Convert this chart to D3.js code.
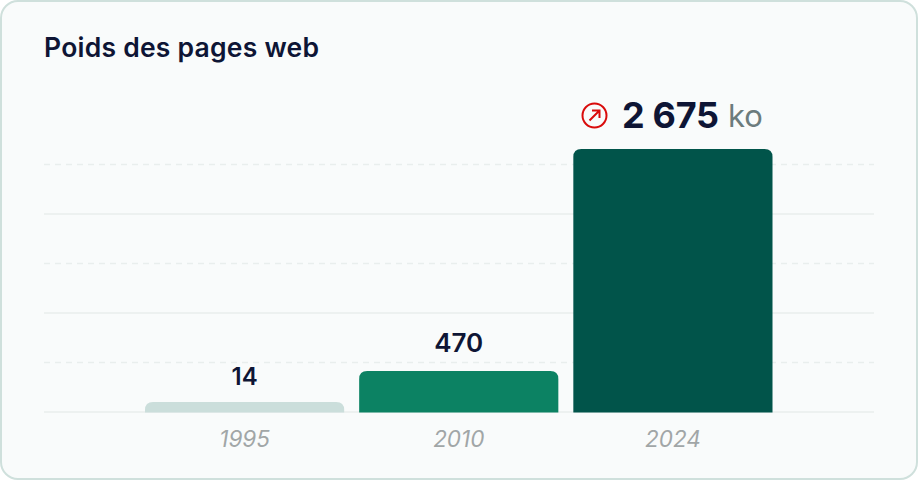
<!DOCTYPE html>
<meta charset="utf-8" />
<script src="https://d3js.org/d3.v7.min.js"></script>
<style>
  html,body{margin:0;background:#fff}
  text{font-family:Inter,"Open Sans",sans-serif}
</style>
<body>
<svg id="chart" width="918" height="480" style="display:block"></svg>
<script>
/* data */
const years = ["1995","2010","2024"];
const weights = [14,470,2675];
const barColors = ["#cbdedb","#0c8263","#01544a"];
const gridTicks = [0,500,1000,1500,2000,2500];
const unit = "ko";
const title = "Poids des pages web";

const W = 918, H = 480, left = 44, right = 874, base = 412;
const ink = "#0e1535";

const svg = d3.select("#chart");

/* card */
svg.append("rect").attr("x",1).attr("y",1).attr("width",W-2).attr("height",H-2)
  .attr("rx",17).attr("fill","#f9fbfb").attr("stroke","#cfe0dc").attr("stroke-width",2);

svg.append("text").attr("x",left).attr("y",57)
  .attr("font-size",26.5).attr("font-weight",600).attr("fill",ink)
  .attr("textLength",275).attr("lengthAdjust","spacing")
  .text(title);

/* scales */
const x = d3.scaleBand().domain(years).range([145,772.5]).paddingInner(0.07).paddingOuter(0);
const yGrid = d3.scaleLinear().domain([0,2500]).range([base,164.5]);
// bars in the picture are not strictly linear, so the bar scale is calibrated on them
const yBar = d3.scaleLinear().domain([0,14,470,2675]).range([base,402,371,149]);

/* grid */
svg.append("g").selectAll("line").data(gridTicks).join("line")
  .attr("x1",left).attr("x2",right)
  .attr("y1",d=>yGrid(d)).attr("y2",d=>yGrid(d))
  .attr("stroke",(d,i)=>i%2 ? "#e9eeed" : "#e9eeed")
  .attr("stroke-width",1.5)
  .attr("stroke-dasharray",d=>(d/500)%2 ? "6 5" : null);

/* bars, top corners rounded only */
const topRound = (x0,y0,w,h,r) => {
  const rr = Math.min(r,h);
  const p = d3.path();
  p.moveTo(x0,y0+h);
  p.lineTo(x0,y0+rr);
  p.quadraticCurveTo(x0,y0,x0+rr,y0);
  p.lineTo(x0+w-rr,y0);
  p.quadraticCurveTo(x0+w,y0,x0+w,y0+rr);
  p.lineTo(x0+w,y0+h);
  p.closePath();
  return p.toString();
};
svg.append("g").selectAll("path").data(weights).join("path")
  .attr("fill",(d,i)=>barColors[i])
  .attr("d",(d,i)=>topRound(x(years[i]),yBar(d),x.bandwidth(),base+0.5-yBar(d),8));

/* year labels */
const axis = svg.append("g").attr("transform",`translate(0,${base})`)
  .call(d3.axisBottom(x).tickSize(0).tickPadding(19));
axis.select(".domain").remove();
axis.selectAll("text")
  .attr("font-size",22.5).attr("font-style","italic").attr("font-weight",400)
  .attr("fill","#a1a6a7").attr("font-family",'Inter,"Open Sans",sans-serif');

/* value labels */
const fmt = d => d3.format(",")(d).replace(",", " ");
svg.append("g").selectAll("text").data(weights.slice(0,2)).join("text")
  .attr("x",(d,i)=>x(years[i])+x.bandwidth()/2)
  .attr("y",(d,i)=>yBar(d)-(i ? 19 : 17))
  .attr("text-anchor","middle")
  .attr("font-size",(d,i)=>i ? 26 : 24).attr("font-weight",600).attr("fill",ink)
  .text(fmt);

/* highlighted value */
const last = weights[weights.length-1];
svg.append("text").attr("x",622).attr("y",128)
  .attr("font-size",36).attr("font-weight",700).attr("fill",ink)
  .attr("textLength",97)
  .text(fmt(last));
svg.append("text").attr("x",728).attr("y",127)
  .attr("font-size",31).attr("font-weight",400).attr("fill","#6c7c7d")
  .text(unit);

/* red arrow badge */
const badge = svg.append("g").attr("transform","translate(594.5,115.5)")
  .attr("fill","none").attr("stroke","#d90b0b").attr("stroke-width",2);
badge.append("circle").attr("r",12);
badge.append("path").attr("d","M-5,5L5,-5M-2.5,-5H5V2.5");
</script>
</body>
